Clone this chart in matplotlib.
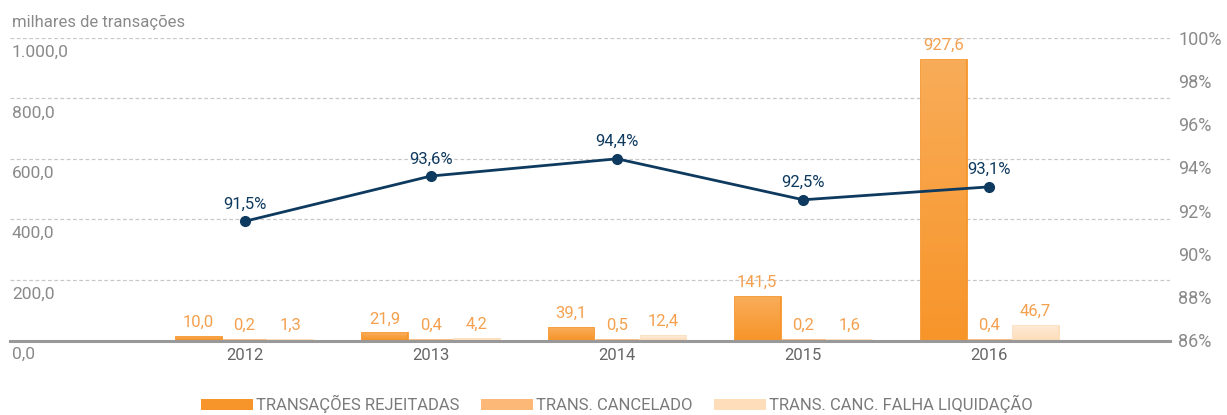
import numpy as np
import matplotlib.pyplot as plt
import matplotlib.transforms as mtransforms
from matplotlib.patches import Patch
from matplotlib.colors import LinearSegmentedColormap

plt.rcParams['font.family'] = ['Roboto', 'DejaVu Sans']

years = ['2012', '2013', '2014', '2015', '2016']
rejeitadas = [10.0, 21.9, 39.1, 141.5, 927.6]
cancelado = [0.2, 0.4, 0.5, 0.2, 0.4]
falha_liq = [1.3, 4.2, 12.4, 1.6, 46.7]
taxa = [91.5, 93.6, 94.4, 92.5, 93.1]

left_ticks = [0, 200, 400, 600, 800, 1000]
left_labels = ['0,0', '200,0', '400,0', '600,0', '800,0', '1.000,0']
right_ticks = [86, 88, 90, 92, 94, 96, 98, 100]
right_labels = ['86%', '88%', '90%', '92%', '94%', '96%', '98%', '100%']

# bottom colour, top colour of each bar gradient
c1 = ('#F7952A', '#F9AC58')
c2 = ('#FBB877', '#FCCB98')
c3 = ('#FDDDBA', '#FEEBD6')
lbl_c = '#F5A04E'
navy = '#0E3A5F'
gray = '#8A8A8A'

fig = plt.figure(figsize=(12.27, 4.15), dpi=100)
ax = fig.add_axes([10 / 1227, (415 - 340) / 415, 1160 / 1227, 302 / 415])
ax.set_xlim(-1.26, 4.97)
ax.set_ylim(0, 1000)

# spine first: set_position resets the tick labels
for s in ['top', 'right', 'left']:
    ax.spines[s].set_visible(False)
ax.spines['bottom'].set_position(('outward', 1))
ax.spines['bottom'].set_color('#999999')
ax.spines['bottom'].set_linewidth(2.2)
ax.spines['bottom'].set_zorder(4)

x = np.arange(len(years))
w = 0.24
series = [(rejeitadas, c1, 'TRANSAÇÕES REJEITADAS'),
          (cancelado, c2, 'TRANS. CANCELADO'),
          (falha_liq, c3, 'TRANS. CANC. FALHA LIQUIDAÇÃO')]
grad = np.linspace(1, 0, 64).reshape(-1, 1)
for k, (vals, cols, name) in enumerate(series):
    xs = x + (k - 1) * 0.247
    bars = ax.bar(xs, vals, width=w, color=cols[0], edgecolor=cols[0], lw=2, zorder=2)
    cmap = LinearSegmentedColormap.from_list('g%d' % k, [cols[0], cols[1]])
    for b in bars:
        bx, by = b.get_x(), b.get_y()
        im = ax.imshow(grad, cmap=cmap, vmin=0, vmax=1, aspect='auto', zorder=2.5,
                       extent=[bx, bx + b.get_width(), by, by + b.get_height()])
        im.set_clip_path(b)
    for xi, v in zip(xs, vals):
        ax.annotate(f'{v:.1f}'.replace('.', ','), (xi, v), xytext=(0, 5),
                    textcoords='offset points', ha='center', va='bottom',
                    color=lbl_c, fontsize=12)

ax.set_xlim(-1.26, 4.97)
ax.set_ylim(0, 1000)
ax.set_yticks(left_ticks)
ax.set_yticklabels([])
ax.tick_params(axis='y', length=0)
ax.set_xticks(x)
ax.set_xticklabels(years, color='#666666', fontsize=12)
ax.tick_params(axis='x', length=0, pad=5)
for t in left_ticks[1:]:
    ax.axhline(t, color='#C8C8C8', lw=0.9, ls=(0, (3, 2)), zorder=0)

trans = mtransforms.blended_transform_factory(fig.transFigure, ax.transData)
trans = trans + mtransforms.ScaledTranslation(0, -7 / 100, fig.dpi_scale_trans)
for t, lab in zip(left_ticks, left_labels):
    ax.text(12 / 1227, t, lab, transform=trans, ha='left', va='top', color=gray,
            fontsize=12.5)

fig.text(12 / 1227, 1 - 22 / 415, 'milhares de transações', ha='left', va='center',
         color=gray, fontsize=12)

ax2 = ax.twinx()
ax2.set_ylim(86, 100)
ax2.set_yticks(right_ticks)
ax2.set_yticklabels(right_labels, color=gray, fontsize=13)
ax2.tick_params(axis='y', length=0, pad=6)
for s in ax2.spines.values():
    s.set_visible(False)
ax2.plot(x, taxa, color=navy, lw=2, marker='o', ms=7, zorder=5)
for xi, v in zip(x, taxa):
    ax2.text(xi, v + 0.45, f'{v:.1f}%'.replace('.', ','), ha='center', va='bottom',
             color=navy, fontsize=12)

handles = [Patch(facecolor=cols[0], edgecolor='none') for _, cols, _ in series]
fig.legend(handles, [n for _, _, n in series], loc='center', bbox_to_anchor=(0.503, 1 - 404 / 415),
           ncol=3, frameon=False, fontsize=12, labelcolor='#7A7A7A', handlelength=3.1,
           handleheight=0.6, columnspacing=1.3, handletextpad=0.2)

fig.savefig('out.png', dpi=100)
